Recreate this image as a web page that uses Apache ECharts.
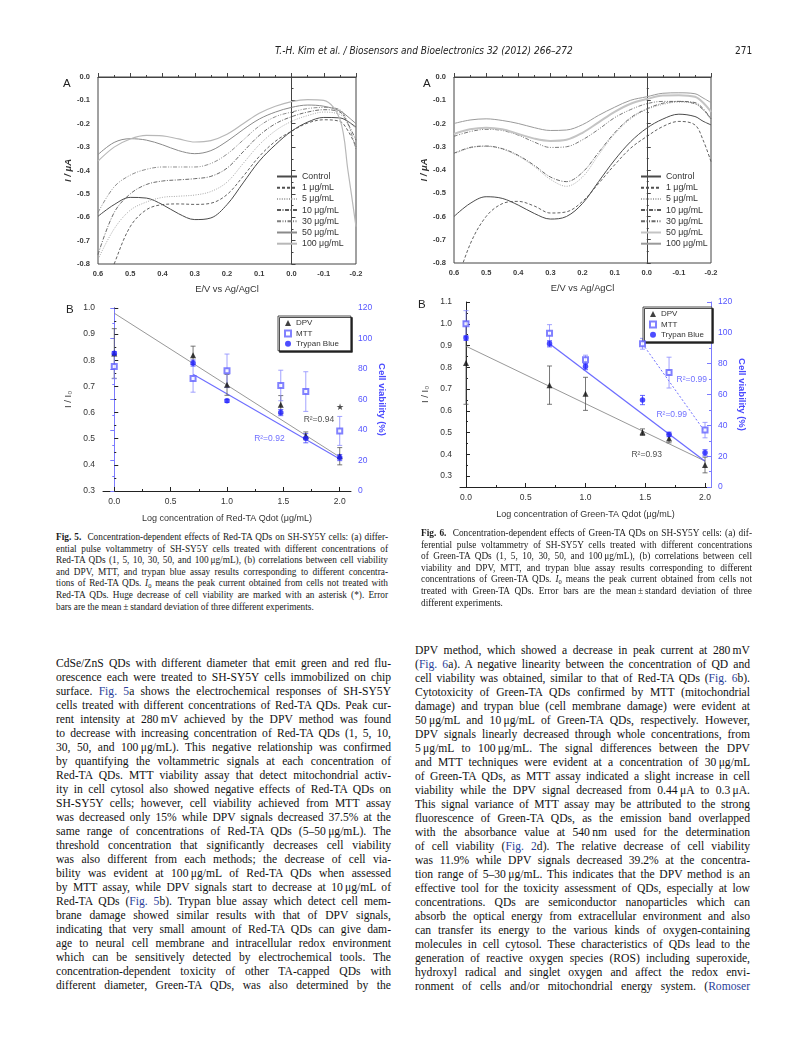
<!DOCTYPE html>
<html><head><meta charset="utf-8">
<script src="https://cdn.jsdelivr.net/npm/echarts@6/dist/echarts.min.js"></script>
<style>
html,body{margin:0;padding:0;background:#fff;}
#page{position:relative;width:794px;height:1059px;overflow:hidden;background:#fff;}
#chart{position:absolute;left:0;top:0;width:794px;height:530px;}
.hdr{position:absolute;top:45px;font-family:'Liberation Sans Narrow','DejaVu Sans Condensed','Liberation Sans',sans-serif;font-style:italic;font-size:10px;color:#222;white-space:nowrap;}
.cap{position:absolute;font-family:'Liberation Serif',serif;font-size:9.3px;line-height:11.6px;color:#1a1a1a;}
.body{position:absolute;font-family:'Liberation Serif',serif;font-size:11.6px;line-height:14px;color:#111;}
.j{text-align:justify;text-align-last:justify;}
.lk{color:#2b3f9a;}
sub{font-size:70%;vertical-align:-2px;line-height:0;}
</style></head>
<body><div id="page">
<div id="chart"></div>
<div class="hdr" style="left:275px;">T.-H. Kim et al. / Biosensors and Bioelectronics 32 (2012) 266–272</div>
<div class="hdr" style="left:735px;font-style:normal;">271</div>

<div class="cap" style="left:56px;top:532px;width:332px;">
<div class="j"><b>Fig. 5.</b>&nbsp; Concentration-dependent effects of Red-TA QDs on SH-SY5Y cells: (a) differ-</div>
<div class="j">ential pulse voltammetry of SH-SY5Y cells treated with different concentrations of</div>
<div class="j">Red-TA QDs (1, 5, 10, 30, 50, and 100&#8201;μg/mL), (b) correlations between cell viability</div>
<div class="j">and DPV, MTT, and trypan blue assay results corresponding to different concentra-</div>
<div class="j">tions of Red-TA QDs. <i>I</i><sub>0</sub> means the peak current obtained from cells not treated with</div>
<div class="j">Red-TA QDs. Huge decrease of cell viability are marked with an asterisk (*). Error</div>
<div>bars are the mean&#8201;±&#8201;standard deviation of three different experiments.</div>
</div>

<div class="cap" style="left:421px;top:528px;width:331px;">
<div class="j"><b>Fig. 6.</b>&nbsp; Concentration-dependent effects of Green-TA QDs on SH-SY5Y cells: (a) dif-</div>
<div class="j">ferential pulse voltammetry of SH-SY5Y cells treated with different concentrations</div>
<div class="j">of Green-TA QDs (1, 5, 10, 30, 50, and 100&#8201;μg/mL), (b) correlations between cell</div>
<div class="j">viability and DPV, MTT, and trypan blue assay results corresponding to different</div>
<div class="j">concentrations of Green-TA QDs. <i>I</i><sub>0</sub> means the peak current obtained from cells not</div>
<div class="j">treated with Green-TA QDs. Error bars are the mean&#8201;±&#8201;standard deviation of three</div>
<div>different experiments.</div>
</div>

<div class="body" style="left:56px;top:657px;width:335px;">
<div class="j">CdSe/ZnS QDs with different diameter that emit green and red flu-</div>
<div class="j">orescence each were treated to SH-SY5Y cells immobilized on chip</div>
<div class="j">surface. <span class="lk">Fig. 5</span>a shows the electrochemical responses of SH-SY5Y</div>
<div class="j">cells treated with different concentrations of Red-TA QDs. Peak cur-</div>
<div class="j">rent intensity at 280&#8201;mV achieved by the DPV method was found</div>
<div class="j">to decrease with increasing concentration of Red-TA QDs (1, 5, 10,</div>
<div class="j">30, 50, and 100&#8201;μg/mL). This negative relationship was confirmed</div>
<div class="j">by quantifying the voltammetric signals at each concentration of</div>
<div class="j">Red-TA QDs. MTT viability assay that detect mitochondrial activ-</div>
<div class="j">ity in cell cytosol also showed negative effects of Red-TA QDs on</div>
<div class="j">SH-SY5Y cells; however, cell viability achieved from MTT assay</div>
<div class="j">was decreased only 15% while DPV signals decreased 37.5% at the</div>
<div class="j">same range of concentrations of Red-TA QDs (5–50&#8201;μg/mL). The</div>
<div class="j">threshold concentration that significantly decreases cell viability</div>
<div class="j">was also different from each methods; the decrease of cell via-</div>
<div class="j">bility was evident at 100&#8201;μg/mL of Red-TA QDs when assessed</div>
<div class="j">by MTT assay, while DPV signals start to decrease at 10&#8201;μg/mL of</div>
<div class="j">Red-TA QDs (<span class="lk">Fig. 5</span>b). Trypan blue assay which detect cell mem-</div>
<div class="j">brane damage showed similar results with that of DPV signals,</div>
<div class="j">indicating that very small amount of Red-TA QDs can give dam-</div>
<div class="j">age to neural cell membrane and intracellular redox environment</div>
<div class="j">which can be sensitively detected by electrochemical tools. The</div>
<div class="j">concentration-dependent toxicity of other TA-capped QDs with</div>
<div class="j">different diameter, Green-TA QDs, was also determined by the</div>
</div>

<div class="body" style="left:415px;top:644px;width:335px;">
<div class="j">DPV method, which showed a decrease in peak current at 280&#8201;mV</div>
<div class="j">(<span class="lk">Fig. 6</span>a). A negative linearity between the concentration of QD and</div>
<div class="j">cell viability was obtained, similar to that of Red-TA QDs (<span class="lk">Fig. 6</span>b).</div>
<div class="j">Cytotoxicity of Green-TA QDs confirmed by MTT (mitochondrial</div>
<div class="j">damage) and trypan blue (cell membrane damage) were evident at</div>
<div class="j">50&#8201;μg/mL and 10&#8201;μg/mL of Green-TA QDs, respectively. However,</div>
<div class="j">DPV signals linearly decreased through whole concentrations, from</div>
<div class="j">5&#8201;μg/mL to 100&#8201;μg/mL. The signal differences between the DPV</div>
<div class="j">and MTT techniques were evident at a concentration of 30&#8201;μg/mL</div>
<div class="j">of Green-TA QDs, as MTT assay indicated a slight increase in cell</div>
<div class="j">viability while the DPV signal decreased from 0.44&#8201;μA to 0.3&#8201;μA.</div>
<div class="j">This signal variance of MTT assay may be attributed to the strong</div>
<div class="j">fluorescence of Green-TA QDs, as the emission band overlapped</div>
<div class="j">with the absorbance value at 540&#8201;nm used for the determination</div>
<div class="j">of cell viability (<span class="lk">Fig. 2</span>d). The relative decrease of cell viability</div>
<div class="j">was 11.9% while DPV signals decreased 39.2% at the concentra-</div>
<div class="j">tion range of 5–30&#8201;μg/mL. This indicates that the DPV method is an</div>
<div class="j">effective tool for the toxicity assessment of QDs, especially at low</div>
<div class="j">concentrations. QDs are semiconductor nanoparticles which can</div>
<div class="j">absorb the optical energy from extracellular environment and also</div>
<div class="j">can transfer its energy to the various kinds of oxygen-containing</div>
<div class="j">molecules in cell cytosol. These characteristics of QDs lead to the</div>
<div class="j">generation of reactive oxygen species (ROS) including superoxide,</div>
<div class="j">hydroxyl radical and singlet oxygen and affect the redox envi-</div>
<div class="j">ronment of cells and/or mitochondrial energy system. (<span class="lk">Romoser</span></div>
</div>
</div>
<script>
// ---------- DATA ----------
const E = [0.6,0.55,0.5,0.45,0.4,0.35,0.3,0.25,0.2,0.15,0.1,0.05,0,-0.05,-0.1,-0.15,-0.175,-0.2];
const concNames = ['Control','1 μg/mL','5 μg/mL','10 μg/mL','30 μg/mL','50 μg/mL','100 μg/mL'];

// Fig 5A (Red-TA) DPV curves, current in μA
const redCtrl = [-0.596,-0.546,-0.515,-0.518,-0.546,-0.585,-0.61,-0.603,-0.546,-0.453,-0.36,-0.29,-0.232,-0.193,-0.173,-0.175,-0.19,-0.215];
const red1    = [-0.98,-0.8,-0.64,-0.568,-0.546,-0.543,-0.545,-0.54,-0.503,-0.425,-0.34,-0.275,-0.232,-0.197,-0.183,-0.19,-0.23,-0.297];
const red5    = [-0.78,-0.65,-0.57,-0.535,-0.515,-0.51,-0.505,-0.49,-0.45,-0.37,-0.29,-0.23,-0.19,-0.165,-0.15,-0.16,-0.19,-0.22];
const red10   = [-0.76,-0.58,-0.5,-0.46,-0.445,-0.44,-0.435,-0.425,-0.39,-0.32,-0.25,-0.2,-0.17,-0.15,-0.14,-0.15,-0.2,-0.27];
const red30   = [-0.58,-0.47,-0.42,-0.395,-0.385,-0.385,-0.385,-0.37,-0.33,-0.27,-0.21,-0.17,-0.15,-0.135,-0.13,-0.14,-0.2,-0.31];
const red50   = [-0.332,-0.28,-0.264,-0.27,-0.29,-0.315,-0.328,-0.315,-0.275,-0.225,-0.18,-0.15,-0.13,-0.12,-0.125,-0.145,-0.17,-0.2];
const red100  = [-0.36,-0.3,-0.265,-0.25,-0.252,-0.265,-0.278,-0.272,-0.245,-0.2,-0.155,-0.125,-0.105,-0.097,-0.1,-0.18,-0.4,-0.64];

// Fig 6A (Green-TA) DPV curves
const grnCtrl = [-0.6,-0.544,-0.515,-0.522,-0.551,-0.587,-0.611,-0.6,-0.544,-0.45,-0.357,-0.278,-0.22,-0.181,-0.16,-0.17,-0.19,-0.206];
const grn1    = [-0.92,-0.72,-0.6,-0.545,-0.535,-0.555,-0.585,-0.58,-0.535,-0.458,-0.378,-0.306,-0.256,-0.213,-0.191,-0.206,-0.27,-0.364];
const grn5    = [-0.33,-0.305,-0.298,-0.31,-0.34,-0.385,-0.44,-0.47,-0.43,-0.335,-0.245,-0.18,-0.14,-0.118,-0.108,-0.115,-0.14,-0.185];
const grn10   = [-0.328,-0.303,-0.297,-0.308,-0.337,-0.38,-0.43,-0.45,-0.41,-0.325,-0.24,-0.175,-0.137,-0.113,-0.105,-0.11,-0.135,-0.18];
const grn30   = [-0.255,-0.235,-0.225,-0.23,-0.25,-0.28,-0.303,-0.3,-0.27,-0.225,-0.175,-0.14,-0.115,-0.105,-0.105,-0.115,-0.14,-0.18];
const grn50   = [-0.245,-0.225,-0.218,-0.225,-0.245,-0.265,-0.275,-0.27,-0.24,-0.195,-0.15,-0.115,-0.095,-0.08,-0.078,-0.085,-0.11,-0.15];
const grn100  = [-0.2,-0.185,-0.18,-0.187,-0.2,-0.218,-0.23,-0.228,-0.205,-0.165,-0.13,-0.1,-0.085,-0.07,-0.068,-0.072,-0.09,-0.11];

// B panels: log concentration (μg/mL)
const logConc = [0, 0.699, 1, 1.477, 1.699, 2];
// Fig 5B
const redDPV = [0.826, 0.819, 0.706, 0.63, 0.511, 0.433];
const redDPVerr = [0.095, 0.035, 0.04, 0.035, 0.015, 0.033];
const redMTT = [81.6, 73.8, 78.8, 69.2, 65.2, 39.4];
const redMTTerr = [8, 9, 11, 10, 13, 9.5];
const redTB = [90.4, 83.9, 59.1, 51.4, 34.6, 21.9];
const redTBerr = [1, 2, 1, 2, 3, 2];
const redFitDPVx = [0, 2], redFitDPVy = [0.98, 0.43];
const redFitTBx = [0.699, 2], redFitTBy = [76.6, 21];
const redStar = [2.0, 54.7];
// Fig 6B
const grnDPV = [0.82, 0.718, 0.678, 0.502, 0.473, 0.351];
const grnDPVerr = [0.19, 0.088, 0.076, 0.015, 0.02, 0.036];
const grnMTT = [105.9, 99.8, 82.5, 92.9, 74.2, 36.9];
const grnMTTerr = [8.5, 5.5, 3, 3.5, 10, 5];
const grnTB = [96.6, 92.9, 78.1, 56.4, 34.1, 22.2];
const grnTBerr = [1.5, 2, 2, 3, 1.5, 2];
const grnFitDPVx = [0, 2], grnFitDPVy = [0.897, 0.369];
const grnFitTBx = [0.699, 2], grnFitTBy = [92.9, 16.7];
const grnFitMTTx = [1.477, 2], grnFitMTTy = [92.9, 35.8];

// tick values
const bTicks = [0, 0.5, 1, 1.5, 2];
const bMinor = [0.25, 0.75, 1.25, 1.75];
const g6Left = [0.3,0.4,0.5,0.6,0.7,0.8,0.9,1.0,1.1];
const g6LeftMinor = [0.35,0.45,0.55,0.65,0.75,0.85,0.95,1.05];

// ---------- STYLE ----------
const FONT = 'Liberation Sans, Arial, sans-serif';
const BLUE = '#2020ff', LBLUE = '#6d6dff', AXBLUE = '#7b7bff';
const lineStylesRed = [
  {color:'#4a4a4a', type:'solid', width:1},
  {color:'#505050', type:[3,2], width:0.9},
  {color:'#a8a8a8', type:[1,1.4], width:1},
  {color:'#5a5a5a', type:[4,1.5,1,1.5], width:0.9},
  {color:'#808080', type:[4,1.5,1,1.5,1,1.5], width:0.9},
  {color:'#8a8a8a', type:'solid', width:1},
  {color:'#b8b8b8', type:'solid', width:1.2}
];
const lineStylesGrn = [
  {color:'#4a4a4a', type:'solid', width:1},
  {color:'#505050', type:[3,2], width:0.9},
  {color:'#a8a8a8', type:[1,1.4], width:1},
  {color:'#5a5a5a', type:[4,1.5,1,1.5], width:0.9},
  {color:'#6a6a6a', type:[4,1.5,1,1.5,1,1.5], width:0.9},
  {color:'#c4c4c4', type:'solid', width:2},
  {color:'#9a9a9a', type:'solid', width:1}
];
const fmt1 = v => (Math.abs(v) < 1e-9 ? 0 : v).toFixed(1);

function curveSeries(arrs, styles, axis, suffix){
  return arrs.map((arr,k)=>({
    type:'line', name: concNames[k]+suffix, xAxisIndex:axis, yAxisIndex:axis,
    data: E.map((e,i)=>[e, arr[i]]), smooth:0.35, symbol:'none', showSymbol:false,
    lineStyle: styles[k], itemStyle:{color:styles[k].color}, z:3, silent:true
  }));
}
function errSeries(xs, ys, es, xi, yi, color){
  return {type:'custom', xAxisIndex:xi, yAxisIndex:yi, silent:true, z:2,
    data: xs.map((x,i)=>[x, ys[i]-es[i], ys[i]+es[i]]),
    encode:{x:0, y:[1,2]},
    renderItem:(p, api)=>{
      const x = api.value(0);
      const a = api.coord([x, api.value(1)]), b = api.coord([x, api.value(2)]);
      const w = 2.5, st = {stroke:color, lineWidth:0.8};
      return {type:'group', children:[
        {type:'line', shape:{x1:a[0],y1:a[1],x2:b[0],y2:b[1]}, style:st},
        {type:'line', shape:{x1:a[0]-w,y1:a[1],x2:a[0]+w,y2:a[1]}, style:st},
        {type:'line', shape:{x1:b[0]-w,y1:b[1],x2:b[0]+w,y2:b[1]}, style:st}
      ]};
    }};
}
function pts(name, xs, ys, xi, yi, symbol, color, size){
  return {type:'scatter', name, xAxisIndex:xi, yAxisIndex:yi, symbol, symbolSize:size,
    data: xs.map((x,i)=>[x, ys[i]]), itemStyle:{color, borderColor:color, borderWidth: symbol==='emptyRect'?1:0}, z:5, silent:true};
}
function fit(xs, ys, xi, yi, color, type, width){
  return {type:'line', xAxisIndex:xi, yAxisIndex:yi, symbol:'none', silent:true, z:1,
    data: xs.map((x,i)=>[x, ys[i]]), lineStyle:{color, type, width}};
}
function txt(x, y, s, xi, yi, color){
  return {type:'scatter', xAxisIndex:xi, yAxisIndex:yi, symbolSize:0, silent:true, z:6,
    data:[{value:[x,y], name:s}],
    label:{show:true, position:'inside', formatter:'{b}', color, fontSize:8.5, fontFamily:FONT}};
}

function axA(grid, name){
  return {type:'value', gridIndex:grid, min:-0.2, max:0.6, interval:0.1, inverse:true,
    axisLine:{show:true, lineStyle:{color:'#444', width:1}},
    axisTick:{show:true, inside:true, length:4, lineStyle:{color:'#444'}},
    minorTick:{show:true, splitNumber:2, length:2, lineStyle:{color:'#444'}},
    splitLine:{show:false},
    axisLabel:{formatter:fmt1, fontSize:7.5, fontWeight:'bold', color:'#3a3a3a', margin:6, fontFamily:FONT},
    name, nameLocation:'middle', nameGap:21, nameTextStyle:{fontSize:9.3, color:'#333', fontFamily:FONT}};
}
function ayA(grid){
  return {type:'value', gridIndex:grid, min:-0.8, max:0, interval:0.1,
    axisLine:{show:true, lineStyle:{color:'#444', width:1}},
    axisTick:{show:true, inside:true, length:4, lineStyle:{color:'#444'}},
    minorTick:{show:true, splitNumber:2, length:2, lineStyle:{color:'#444'}},
    splitLine:{show:false},
    axisLabel:{formatter:fmt1, fontSize:7.5, fontWeight:'bold', color:'#3a3a3a', margin:8, fontFamily:FONT},
    name:'I / μA', nameLocation:'middle', nameRotate:90, nameGap:22,
    nameTextStyle:{fontSize:9.5, fontWeight:'bold', fontStyle:'italic', color:'#333', fontFamily:FONT}};
}
function axB(grid, min, max, name){
  return [{type:'value', gridIndex:grid, min, max, position:'bottom',
    axisLine:{show:true, lineStyle:{color:'#222', width:1}},
    axisTick:{show:true, inside:true, length:4, customValues:bTicks, lineStyle:{color:'#222'}},
    axisLabel:{customValues:bTicks, formatter:fmt1, fontSize:8.5, color:'#333', margin:6, fontFamily:FONT},
    splitLine:{show:false},
    name, nameLocation:'middle', nameGap:23, nameTextStyle:{fontSize:9, color:'#333', fontFamily:FONT}},
   {type:'value', gridIndex:grid, min, max, position:'bottom',
    axisLine:{show:false}, axisLabel:{show:false}, splitLine:{show:false},
    axisTick:{show:true, inside:true, length:2, customValues:bMinor, lineStyle:{color:'#222'}}}];
}
function ayBright(grid){
  return {type:'value', gridIndex:grid, position:'right', min:0, max:120, interval:20,
    axisLine:{show:true, lineStyle:{color:AXBLUE, width:1}},
    axisTick:{show:true, inside:true, length:4, lineStyle:{color:AXBLUE}},
    minorTick:{show:true, splitNumber:2, length:2, lineStyle:{color:AXBLUE}},
    splitLine:{show:false},
    axisLabel:{fontSize:8.5, color:'#5555ff', margin:7, fontFamily:FONT},
    name:'Cell viability (%)', nameLocation:'middle', nameRotate:-90, nameGap:26,
    nameTextStyle:{fontSize:9.5, fontWeight:'bold', color:'#4a4aff', fontFamily:FONT}};
}
const leftNameStyle = {fontSize:9.5, color:'#333', fontFamily:FONT};

const option = {
  animation:false,
  textStyle:{fontFamily:FONT},
  grid:[
    {left:98, top:77, width:258, height:187, show:true, borderColor:'#444', borderWidth:1},
    {left:103, top:308, width:248, height:183},
    {left:454, top:77, width:257, height:186, show:true, borderColor:'#444', borderWidth:1},
    {left:460, top:302, width:251, height:185}
  ],
  xAxis:[
    axA(0, 'E/V vs Ag/AgCl'),
    ...axB(1, -0.1, 2.1, 'Log concentration of Red-TA Qdot (μg/mL)'),
    axA(2, 'E/V vs Ag/AgCl'),
    ...axB(3, -0.05, 2.05, 'Log concentration of Green-TA Qdot (μg/mL)')
  ],
  yAxis:[
    ayA(0),
    {type:'value', gridIndex:1, min:0.3, max:1.0, interval:0.1,
      axisLine:{show:true, lineStyle:{color:'#222'}},
      axisTick:{show:true, inside:true, length:4, lineStyle:{color:'#222'}},
      minorTick:{show:true, splitNumber:2, length:2, lineStyle:{color:'#222'}},
      splitLine:{show:false},
      axisLabel:{formatter:fmt1, fontSize:8.5, color:'#333', margin:8, fontFamily:FONT},
      name:'I / I₀', nameLocation:'middle', nameRotate:90, nameGap:30, nameTextStyle:leftNameStyle},
    ayBright(1),
    ayA(2),
    {type:'value', gridIndex:3, min:0.25, max:1.1,
      axisLine:{show:true, lineStyle:{color:'#222'}},
      axisTick:{show:true, inside:true, length:4, customValues:g6Left, lineStyle:{color:'#222'}},
      splitLine:{show:false},
      axisLabel:{customValues:g6Left, formatter:fmt1, fontSize:8.5, color:'#333', margin:8, fontFamily:FONT},
      name:'I / I₀', nameLocation:'middle', nameRotate:90, nameGap:30, nameTextStyle:leftNameStyle},
    {type:'value', gridIndex:3, min:0.25, max:1.1, position:'left',
      axisLine:{show:false}, axisLabel:{show:false}, splitLine:{show:false},
      axisTick:{show:true, inside:true, length:2, customValues:g6LeftMinor, lineStyle:{color:'#222'}}},
    ayBright(3)
  ],
  legend:[
    {data: concNames, left:276, top:172, orient:'vertical', itemWidth:20, itemHeight:8, itemGap:2.2,
      padding:0, selectedMode:false, itemStyle:{opacity:0},
      textStyle:{fontSize:8.8, color:'#333', lineHeight:8, fontFamily:FONT}},
    {data: concNames.map(n=>n+'#g'), left:640, top:172, orient:'vertical', itemWidth:20, itemHeight:8, itemGap:2.2,
      padding:0, selectedMode:false, itemStyle:{opacity:0}, formatter:n=>n.replace('#g',''),
      textStyle:{fontSize:8.8, color:'#333', lineHeight:8, fontFamily:FONT}},
    {data:['DPV','MTT','Trypan Blue'], left:278, top:316, orient:'vertical', itemWidth:6, itemHeight:6, itemGap:2.4,
      padding:[3,12,3,6], selectedMode:false, backgroundColor:'#fff', borderColor:'#222', borderWidth:0.8,
      shadowColor:'#222', shadowOffsetX:1.5, shadowOffsetY:1.5, shadowBlur:0,
      textStyle:{fontSize:8, color:'#333', lineHeight:6, fontFamily:FONT}},
    {data:['DPV#g','MTT#g','Trypan Blue#g'], left:643, top:307, orient:'vertical', itemWidth:6, itemHeight:6, itemGap:2.4,
      padding:[3,8,3,6], selectedMode:false, backgroundColor:'#fff', borderColor:'#222', borderWidth:0.8,
      shadowColor:'#222', shadowOffsetX:1.5, shadowOffsetY:1.5, shadowBlur:0, formatter:n=>n.replace('#g',''),
      textStyle:{fontSize:8, color:'#333', lineHeight:6, fontFamily:FONT}}
  ],
  graphic:[
    {type:'text', left:63, top:78, style:{text:'A', fontSize:11.5, fill:'#222', fontFamily:FONT}},
    {type:'text', left:66, top:304, style:{text:'B', fontSize:11.5, fill:'#222', fontFamily:FONT}},
    {type:'text', left:423, top:78, style:{text:'A', fontSize:11.5, fill:'#222', fontFamily:FONT}},
    {type:'text', left:418, top:299, style:{text:'B', fontSize:11.5, fill:'#222', fontFamily:FONT}}
  ],
  series:[
    ...curveSeries([redCtrl,red1,red5,red10,red30,red50,red100], lineStylesRed, 0, ''),
    ...curveSeries([grnCtrl,grn1,grn5,grn10,grn30,grn50,grn100], lineStylesGrn, 3, '#g').map(s=>Object.assign(s,{xAxisIndex:3, yAxisIndex:3})),
    // Fig 5B
    fit(redFitDPVx, redFitDPVy, 1, 1, '#8c8c8c', 'solid', 0.9),
    fit(redFitTBx, redFitTBy, 1, 2, LBLUE, 'solid', 1.1),
    errSeries(logConc, redDPV, redDPVerr, 1, 1, '#555'),
    errSeries(logConc, redMTT, redMTTerr, 1, 2, '#8a8aff'),
    errSeries(logConc, redTB, redTBerr, 1, 2, '#4040ff'),
    pts('DPV', logConc, redDPV, 1, 1, 'triangle', '#111', 6),
    pts('MTT', logConc, redMTT, 1, 2, 'emptyRect', '#6262ff', 5),
    pts('Trypan Blue', logConc, redTB, 1, 2, 'circle', BLUE, 5.5),
    txt(1.815, 0.572, 'R²=0.94', 1, 1, '#222'),
    txt(1.376, 0.5, 'R²=0.92', 1, 1, '#4a4aff'),
    txt(redStar[0], redStar[1], '★', 1, 2, '#222'),
    // Fig 6B
    fit(grnFitDPVx, grnFitDPVy, 4, 4, '#8c8c8c', 'solid', 0.9),
    fit(grnFitTBx, grnFitTBy, 4, 6, LBLUE, 'solid', 1.3),
    fit(grnFitMTTx, grnFitMTTy, 4, 6, LBLUE, [2,2], 1),
    errSeries(logConc, grnDPV, grnDPVerr, 4, 4, '#555'),
    errSeries(logConc, grnMTT, grnMTTerr, 4, 6, '#8a8aff'),
    errSeries(logConc, grnTB, grnTBerr, 4, 6, '#4040ff'),
    pts('DPV#g', logConc, grnDPV, 4, 4, 'triangle', '#111', 6),
    pts('MTT#g', logConc, grnMTT, 4, 6, 'emptyRect', '#6262ff', 5),
    pts('Trypan Blue#g', logConc, grnTB, 4, 6, 'circle', BLUE, 5.5),
    txt(1.889, 69.5, 'R²=0.99', 4, 6, '#4a4aff'),
    txt(1.721, 46.7, 'R²=0.99', 4, 6, '#4a4aff'),
    txt(1.512, 0.4, 'R²=0.93', 4, 4, '#222')
  ]
};
const chart = echarts.init(document.getElementById('chart'));
chart.setOption(option);
</script>
</body></html>
